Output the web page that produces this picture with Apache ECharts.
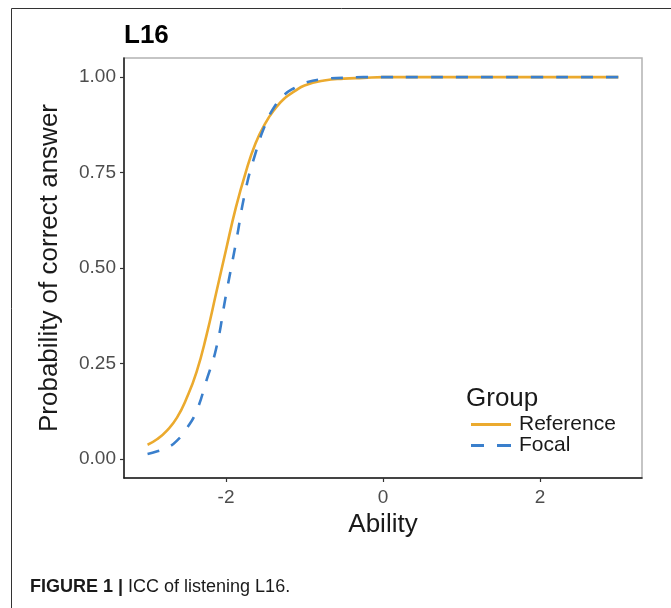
<!DOCTYPE html>
<html>
<head>
<meta charset="utf-8">
<script src="https://cdn.jsdelivr.net/npm/echarts@6/dist/echarts.min.js"></script>
<style>
  html, body { margin: 0; padding: 0; background: #fff; }
  #chart { width: 671px; height: 608px; }
</style>
</head>
<body>
<div id="chart"></div>
<script>
// ---- data ----
const ability = [-3, -2.875, -2.75, -2.625, -2.5, -2.375, -2.25, -2.125, -2, -1.875, -1.75, -1.625, -1.5, -1.375, -1.25, -1.125, -1, -0.75, -0.5, -0.25, 0, 0.5, 1, 1.5, 2, 2.5, 3];
const referenceProb = [0.037, 0.052, 0.075, 0.108, 0.160, 0.228, 0.323, 0.435, 0.548, 0.658, 0.750, 0.826, 0.879, 0.917, 0.945, 0.963, 0.978, 0.991, 0.996, 0.998, 1, 1, 1, 1, 1, 1, 1];
const focalProb = [0.013, 0.020, 0.029, 0.048, 0.080, 0.126, 0.205, 0.290, 0.430, 0.565, 0.705, 0.800, 0.875, 0.925, 0.955, 0.972, 0.985, 0.995, 0.998, 1, 1, 1, 1, 1, 1, 1, 1];
const xTicks = [-2, 0, 2];
const yTicks = [0, 0.25, 0.5, 0.75, 1];
const groupNames = ['Reference', 'Focal'];
const panelTitle = 'L16';
const xTitle = 'Ability';
const yTitle = 'Probability of correct answer';
const legendTitle = 'Group';
const captionBold = 'FIGURE 1 |';
const captionText = ' ICC of listening L16.';

const toPairs = (xs, ys) => xs.map((x, i) => [x, ys[i]]);
const FONT = '"Liberation Sans", Arial, sans-serif';
const REF_COLOR = '#EBAA2E';
const FOC_COLOR = '#3A7FCC';

const chart = echarts.init(document.getElementById('chart'), null, { renderer: 'canvas' });
chart.setOption({
  backgroundColor: '#ffffff',
  animation: false,
  textStyle: { fontFamily: FONT },
  title: [
    { text: panelTitle, left: 124, top: 23, padding: 0, textStyle: { fontFamily: FONT, fontSize: 26, fontWeight: 'bold', color: '#000' } },
    { text: legendTitle, left: 466, top: 386, padding: 0, textStyle: { fontFamily: FONT, fontSize: 26, fontWeight: 'normal', color: '#1a1a1a' } }
  ],
  grid: { left: 124, right: 29, top: 58, bottom: 130, show: true, borderColor: '#b3b3b3', borderWidth: 1.5, backgroundColor: '#fff' },
  legend: {
    orient: 'vertical', left: 471, top: 414, padding: 0,
    itemWidth: 40, itemHeight: 3, itemGap: 0,
    data: [
      { name: groupNames[0], icon: 'path://M0,0H40V3H0Z' },
      { name: groupNames[1], icon: 'path://M0,0H13V3H0Z M26,0H40V3H26Z' }
    ],
    textStyle: { fontFamily: FONT, fontSize: 21, lineHeight: 21, color: '#1a1a1a', padding: [0, 0, 0, 3] }
  },
  xAxis: {
    type: 'value', min: -3.3, max: 3.3,
    name: xTitle, nameLocation: 'middle', nameGap: 33,
    nameTextStyle: { fontFamily: FONT, fontSize: 26, color: '#1a1a1a' },
    axisLine: { show: true, onZero: false, lineStyle: { color: '#1a1a1a', width: 1.5 } },
    axisTick: { show: true, length: 4, customValues: xTicks, lineStyle: { color: '#333', width: 1.2 } },
    axisLabel: { customValues: xTicks, margin: 10, fontFamily: FONT, fontSize: 19, color: '#4d4d4d' },
    splitLine: { show: false }
  },
  yAxis: {
    type: 'value', min: -0.05, max: 1.05,
    name: yTitle, nameLocation: 'middle', nameGap: 61, nameRotate: 90,
    nameTextStyle: { fontFamily: FONT, fontSize: 26, color: '#1a1a1a' },
    axisLine: { show: true, onZero: false, lineStyle: { color: '#1a1a1a', width: 1.5 } },
    axisTick: { show: true, length: 4, customValues: yTicks, lineStyle: { color: '#333', width: 1.2 } },
    axisLabel: { customValues: yTicks, margin: 8, fontFamily: FONT, fontSize: 19, color: '#4d4d4d', formatter: v => v.toFixed(2) },
    splitLine: { show: false }
  },
  series: [
    {
      name: groupNames[0], type: 'line', data: toPairs(ability, referenceProb),
      smooth: true, symbol: 'none', z: 2,
      lineStyle: { color: REF_COLOR, width: 2.6 }, itemStyle: { color: REF_COLOR }
    },
    {
      name: groupNames[1], type: 'line', data: toPairs(ability, focalProb),
      smooth: true, symbol: 'none', z: 3,
      lineStyle: { color: FOC_COLOR, width: 2.6, type: [12, 13] }, itemStyle: { color: FOC_COLOR }
    }
  ],
  graphic: [
    { type: 'line', shape: { x1: 11.5, y1: 8.5, x2: 671, y2: 8.5 }, style: { stroke: '#333', lineWidth: 1 } },
    { type: 'line', shape: { x1: 11.5, y1: 8.5, x2: 11.5, y2: 608 }, style: { stroke: '#333', lineWidth: 1 } },
    {
      type: 'text', left: 30, top: 578,
      style: {
        text: '{b|' + captionBold + '}{n|' + captionText + '}',
        rich: {
          b: { fontFamily: FONT, fontSize: 18, fontWeight: 'bold', fill: '#1a1a1a' },
          n: { fontFamily: FONT, fontSize: 18, fill: '#1a1a1a' }
        }
      }
    }
  ]
});
</script>
</body>
</html>
